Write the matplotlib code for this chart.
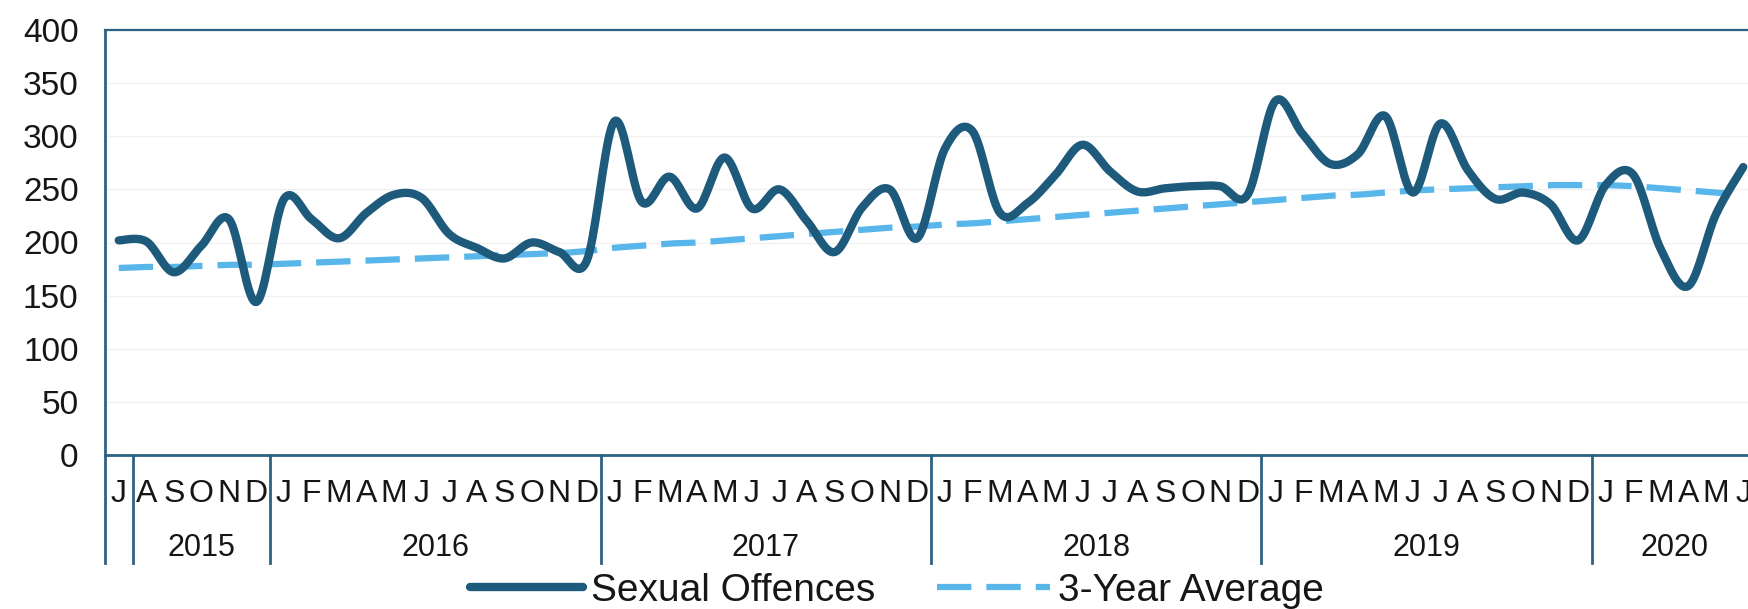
import numpy as np
import matplotlib
matplotlib.use("Agg")
import matplotlib.pyplot as plt
from matplotlib.transforms import blended_transform_factory

plt.rcParams['font.family'] = ['Liberation Sans', 'DejaVu Sans']

# month letters per year group (Jul 2015 - Jun 2020)
months_2015 = ['J', 'A', 'S', 'O', 'N', 'D']
months_full = ['J', 'F', 'M', 'A', 'M', 'J', 'J', 'A', 'S', 'O', 'N', 'D']
months_2020 = ['J', 'F', 'M', 'A', 'M', 'J']
years = ['2015', '2016', '2017', '2018', '2019', '2020']
year_lengths = [6, 12, 12, 12, 12, 6]

month_labels = months_2015 + months_full * 4 + months_2020

# monthly sexual offences
offences = [
    202, 201, 172, 197, 222, 144,                                  # 2015
    241, 222, 204, 228, 245, 242, 208, 195, 185, 200, 191, 183,    # 2016
    314, 238, 262, 232, 280, 232, 250, 220, 191, 233, 250, 204,    # 2017
    288, 305, 228, 237, 263, 292, 267, 248, 251, 253, 253, 245,    # 2018
    333, 302, 274, 283, 319, 247, 312, 268, 241, 247, 236, 202,    # 2019
    254, 264, 194, 159, 226, 271,                                  # 2020
]

# 3-year average
avg_3yr = [
    176, 177, 177, 178, 179, 179,
    180, 181, 182, 183, 184, 185, 186, 187, 188, 189, 190, 192,
    195, 197, 199, 200, 202, 204, 206, 208, 210, 212, 214, 215,
    217, 218, 220, 222, 224, 226, 228, 230, 232, 234, 236, 238,
    240, 242, 244, 245, 247, 249, 250, 251, 252, 253, 254, 254,
    254, 253, 251, 249, 247, 245,
]

dark = '#1d5a7b'
light = '#58b6ea'
axis_col = '#2d6283'
text_col = '#161616'


def smooth(y, n=20):
    # excel style smoothed line (catmull-rom as bezier)
    y = np.asarray(y, dtype=float)
    x = np.arange(len(y), dtype=float)
    px = np.concatenate([[x[0]], x, [x[-1]]])
    py = np.concatenate([[y[0]], y, [y[-1]]])
    t = np.linspace(0, 1, n)[:, None]
    xs, ys = [], []
    for i in range(1, len(px) - 2):
        p0 = np.array([px[i], py[i]])
        p3 = np.array([px[i + 1], py[i + 1]])
        c1 = p0 + (np.array([px[i + 1], py[i + 1]]) - np.array([px[i - 1], py[i - 1]])) / 6
        c2 = p3 - (np.array([px[i + 2], py[i + 2]]) - np.array([px[i], py[i]])) / 6
        pts = ((1 - t) ** 3) * p0 + 3 * ((1 - t) ** 2) * t * c1 + 3 * (1 - t) * t ** 2 * c2 + t ** 3 * p3
        xs.append(pts[:, 0])
        ys.append(pts[:, 1])
    return np.concatenate(xs), np.concatenate(ys)


fig = plt.figure(figsize=(17.49, 6.09), dpi=100)
ax = fig.add_axes([105 / 1749, 1 - 455 / 609, 1652 / 1749, 425 / 609])

sx, sy = smooth(offences)
line1, = ax.plot(sx, sy, color=dark, lw=6, solid_capstyle='round', label='Sexual Offences', zorder=3)
ax_, ay_ = smooth(avg_3yr)
line2, = ax.plot(ax_, ay_, color=light, lw=4.5, dashes=(5.5, 2.4), label='3-Year Average', zorder=2)

ax.set_xlim(-0.5, len(offences) - 0.5)
ax.set_ylim(0, 400)
ax.set_yticks(range(0, 401, 50))
ax.yaxis.grid(True, color='#f1f1f1', lw=1)
ax.set_axisbelow(True)
ax.tick_params(axis='y', length=0, pad=19, labelsize=24, labelcolor=text_col)

ax.set_xticks(range(len(month_labels)), month_labels)
ax.tick_params(axis='x', length=0, pad=17, labelsize=23, labelcolor=text_col)

for s in ['left', 'bottom', 'top']:
    ax.spines[s].set_color(axis_col)
    ax.spines[s].set_linewidth(2)
ax.spines['top'].set_linewidth(1.6)
ax.spines['right'].set_visible(False)

# multi-level category separators and year labels
trans = blended_transform_factory(ax.transData, ax.transAxes)
bounds = [-0.5, 0.5] + list(np.cumsum(year_lengths) - 0.5)
for b in bounds:
    ax.plot([b, b], [0, -108 / 425], transform=trans, color=axis_col, lw=2, clip_on=False)

start = -0.5
for yr, n in zip(years, year_lengths):
    c = start + n / 2
    if yr == '2015':
        c = 0.5 + (n - 1) / 2
    ax.text(c, -93 / 425, yr, transform=trans, ha='center', va='center', fontsize=22, color=text_col)
    start += n

fig.legend(handles=[line1, line2], loc='center', bbox_to_anchor=(897 / 1749, 1 - 591 / 609),
           ncol=2, frameon=False, fontsize=28, handlelength=2.9, handletextpad=0.2,
           columnspacing=1.6, labelcolor=text_col)

fig.savefig('out.png', dpi=100, facecolor='white')
